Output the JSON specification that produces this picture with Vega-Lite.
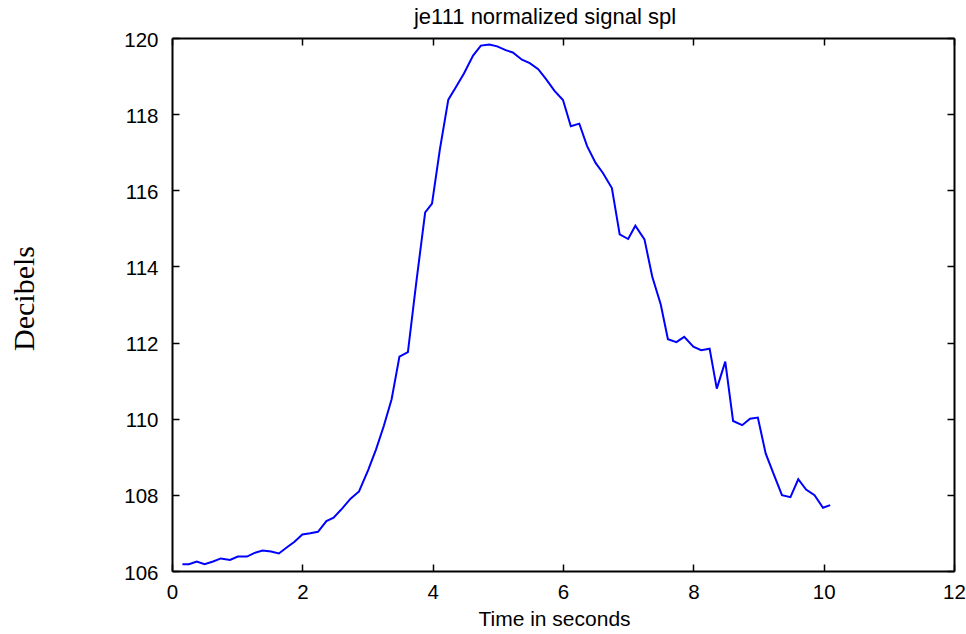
{
  "$schema": "https://vega.github.io/schema/vega-lite/v6.json",
  "width": 782,
  "height": 533,
  "autosize": {"type": "none"},
  "padding": {"left": 172, "top": 38, "right": 12, "bottom": 63},
  "background": "white",
  "title": {"text": "je111 normalized signal spl", "font": "Liberation Sans", "fontSize": 22, "fontWeight": "normal", "color": "black", "anchor": "middle", "dx": -18, "baseline": "alphabetic", "offset": -16},
  "config": {
    "view": {"stroke": null},
    "axis": {"domainColor": "black", "domainWidth": 2, "tickColor": "black", "tickWidth": 1.5, "tickSize": -7, "labelFont": "Liberation Sans", "labelFontSize": 20.5, "labelColor": "black", "labelFlush": false, "grid": false, "titleColor": "black", "titleFontWeight": "normal"}
  },
  "data": {"values": [
    {"t": 0.16, "db": 106.18}, {"t": 0.26, "db": 106.18}, {"t": 0.38, "db": 106.25}, {"t": 0.50, "db": 106.18},
    {"t": 0.63, "db": 106.25}, {"t": 0.75, "db": 106.33}, {"t": 0.89, "db": 106.29}, {"t": 1.01, "db": 106.38},
    {"t": 1.15, "db": 106.38}, {"t": 1.26, "db": 106.47}, {"t": 1.39, "db": 106.54}, {"t": 1.52, "db": 106.51},
    {"t": 1.64, "db": 106.46}, {"t": 1.77, "db": 106.63}, {"t": 1.88, "db": 106.77}, {"t": 2.00, "db": 106.96},
    {"t": 2.12, "db": 106.99}, {"t": 2.24, "db": 107.03}, {"t": 2.37, "db": 107.31}, {"t": 2.48, "db": 107.40},
    {"t": 2.61, "db": 107.64}, {"t": 2.74, "db": 107.90}, {"t": 2.87, "db": 108.09}, {"t": 3.01, "db": 108.65},
    {"t": 3.13, "db": 109.19}, {"t": 3.25, "db": 109.81}, {"t": 3.37, "db": 110.51}, {"t": 3.49, "db": 111.63},
    {"t": 3.62, "db": 111.75}, {"t": 3.75, "db": 113.6}, {"t": 3.885, "db": 115.42}, {"t": 3.99, "db": 115.65},
    {"t": 4.11, "db": 117.07}, {"t": 4.24, "db": 118.38}, {"t": 4.36, "db": 118.72}, {"t": 4.48, "db": 119.07},
    {"t": 4.62, "db": 119.54}, {"t": 4.74, "db": 119.80}, {"t": 4.87, "db": 119.83}, {"t": 4.99, "db": 119.78},
    {"t": 5.12, "db": 119.68}, {"t": 5.23, "db": 119.62}, {"t": 5.37, "db": 119.43}, {"t": 5.49, "db": 119.34},
    {"t": 5.62, "db": 119.18}, {"t": 5.74, "db": 118.92}, {"t": 5.87, "db": 118.61}, {"t": 6.00, "db": 118.37},
    {"t": 6.12, "db": 117.68}, {"t": 6.25, "db": 117.75}, {"t": 6.37, "db": 117.16}, {"t": 6.50, "db": 116.72},
    {"t": 6.61, "db": 116.46}, {"t": 6.75, "db": 116.06}, {"t": 6.87, "db": 114.84}, {"t": 7.00, "db": 114.72},
    {"t": 7.11, "db": 115.07}, {"t": 7.25, "db": 114.71}, {"t": 7.37, "db": 113.73}, {"t": 7.50, "db": 113.00},
    {"t": 7.61, "db": 112.09}, {"t": 7.74, "db": 112.01}, {"t": 7.86, "db": 112.15}, {"t": 8.00, "db": 111.89},
    {"t": 8.12, "db": 111.80}, {"t": 8.25, "db": 111.84}, {"t": 8.36, "db": 110.79}, {"t": 8.49, "db": 111.50},
    {"t": 8.61, "db": 109.94}, {"t": 8.75, "db": 109.83}, {"t": 8.87, "db": 110.00}, {"t": 8.99, "db": 110.03},
    {"t": 9.11, "db": 109.09}, {"t": 9.23, "db": 108.56}, {"t": 9.36, "db": 107.99}, {"t": 9.49, "db": 107.94},
    {"t": 9.61, "db": 108.41}, {"t": 9.73, "db": 108.14}, {"t": 9.86, "db": 107.99}, {"t": 9.99, "db": 107.66},
    {"t": 10.10, "db": 107.73}
  ]},
  "layer": [
    {
      "mark": {"type": "line", "color": "#0000ff", "strokeWidth": 2},
      "encoding": {
        "x": {"field": "t", "type": "quantitative", "scale": {"domain": [0, 12], "nice": false},
              "axis": {"orient": "bottom", "values": [0, 2, 4, 6, 8, 10, 12], "labelPadding": 18, "title": "Time in seconds", "titleFont": "Liberation Sans", "titleFontSize": 21, "titleX": 382, "titleY": 54, "titleBaseline": "alphabetic", "titleAlign": "center"}},
        "y": {"field": "db", "type": "quantitative", "scale": {"domain": [106, 120], "nice": false, "zero": false},
              "axis": {"orient": "left", "values": [106, 108, 110, 112, 114, 116, 118, 120], "labelPadding": 21, "labelOffset": 2, "title": "Decibels", "titleFont": "Liberation Serif", "titleFontSize": 30, "titleX": -139, "titleY": 260, "titleAngle": -90, "titleBaseline": "alphabetic", "titleAlign": "center"}}
      }
    },
    {
      "mark": {"type": "line", "opacity": 0},
      "encoding": {
        "x": {"field": "t", "type": "quantitative", "axis": {"orient": "top", "values": [0, 2, 4, 6, 8, 10, 12], "labels": false, "title": null}},
        "y": {"field": "db", "type": "quantitative", "axis": {"orient": "right", "values": [106, 108, 110, 112, 114, 116, 118, 120], "labels": false, "title": null}}
      }
    }
  ],
  "resolve": {"axis": {"x": "independent", "y": "independent"}}
}
